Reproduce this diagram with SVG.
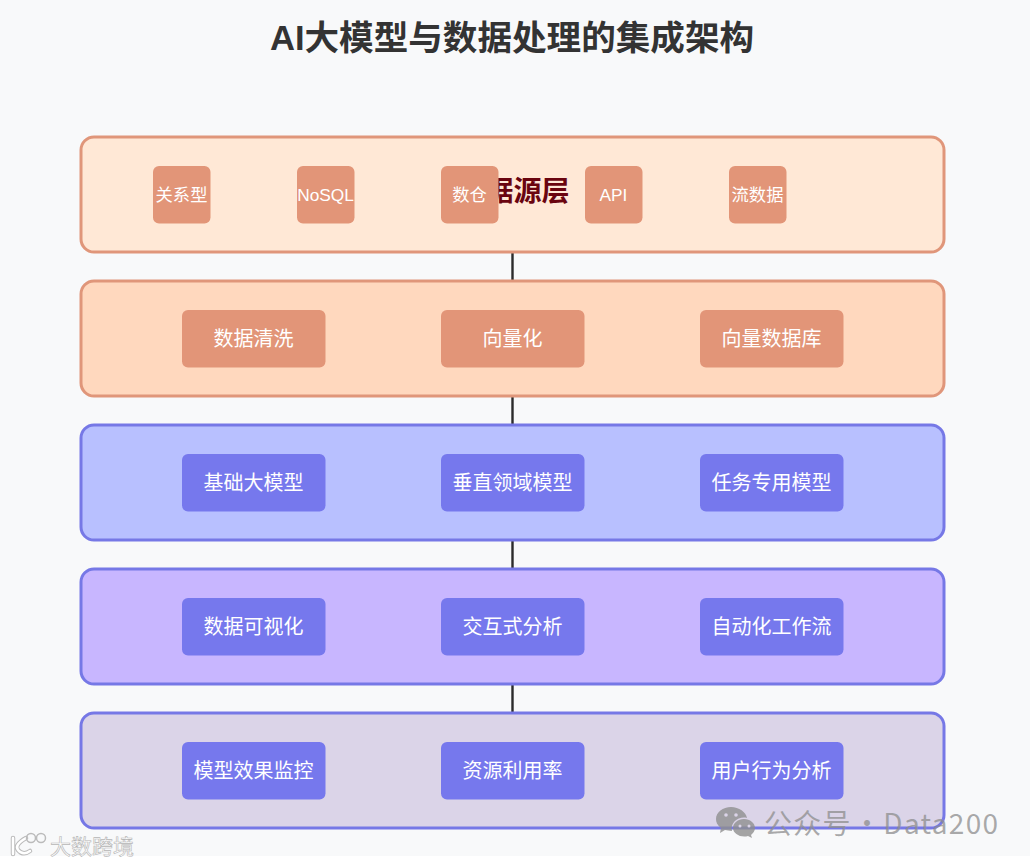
<svg xmlns="http://www.w3.org/2000/svg" width="1030" height="865" viewBox="0 0 1030 865">
<style>
text{font-family:"Liberation Sans","Noto Sans CJK SC",sans-serif;text-anchor:middle}
.o .l{stroke:#e0967a;stroke-width:3}
.b .l{stroke:#7678e6;stroke-width:3}
.o .n{fill:#e29578}
.b .n{fill:#7678ed}
.t{fill:#fff;font-size:20px}
.s{fill:#fff;font-size:17.300px}
.wm{fill:#8e8e8e;fill-opacity:.75;font-family:"Noto Sans CJK SC",sans-serif;font-size:28px;text-anchor:start;letter-spacing:1.300px;word-spacing:-6.500px}
</style>
<rect width="1030" height="856" fill="#f8f9fa"/>
<rect y="856" width="1030" height="9" fill="#fff"/>
<text id="title" x="512" y="50" font-size="34.600" font-weight="700" fill="#333">AI大模型与数据处理的集成架构</text>
<g id="connectors" stroke="#2b2b2b" stroke-width="2.400">
<path d="M512.5 251V282M512.5 395V426M512.5 539V570M512.5 683V714"/>
</g>
<g id="layer-source" class="o">
<rect class="l" x="81" y="137" width="863" height="115" rx="13" fill="#ffe8d6"/>
<text x="513.500" y="201" font-size="28" font-weight="700" fill="#6a040f">数据源层</text>
<g id="n-rel"><rect class="n" x="153" y="166" width="57.500" height="57.500" rx="6"/><text class="s" x="181.500" y="200.500">关系型</text></g>
<g id="n-nosql"><rect class="n" x="297" y="166" width="57.500" height="57.500" rx="6"/><text class="s" x="325.500" y="200.500">NoSQL</text></g>
<g id="n-dw"><rect class="n" x="441" y="166" width="57.500" height="57.500" rx="6"/><text class="s" x="469.500" y="200.500">数仓</text></g>
<g id="n-api"><rect class="n" x="585" y="166" width="57.500" height="57.500" rx="6"/><text class="s" x="613.500" y="200.500">API</text></g>
<g id="n-stream"><rect class="n" x="729" y="166" width="57.500" height="57.500" rx="6"/><text class="s" x="757.500" y="200.500">流数据</text></g>
</g>
<g id="layer-process" class="o">
<rect class="l" x="81" y="281" width="863" height="115" rx="13" fill="#ffd8be"/>
<g id="n-clean"><rect class="n" x="182" y="310" width="143.500" height="57.500" rx="6"/><text class="t" x="253.500" y="345.500">数据清洗</text></g>
<g id="n-vec"><rect class="n" x="441" y="310" width="143.500" height="57.500" rx="6"/><text class="t" x="512.500" y="345.500">向量化</text></g>
<g id="n-vdb"><rect class="n" x="700" y="310" width="143.500" height="57.500" rx="6"/><text class="t" x="771.500" y="345.500">向量数据库</text></g>
</g>
<g id="layer-model" class="b">
<rect class="l" x="81" y="425" width="863" height="115" rx="13" fill="#b8c0ff"/>
<g id="n-base"><rect class="n" x="182" y="454" width="143.500" height="57.500" rx="6"/><text class="t" x="253.500" y="489.500">基础大模型</text></g>
<g id="n-vert"><rect class="n" x="441" y="454" width="143.500" height="57.500" rx="6"/><text class="t" x="512.500" y="489.500">垂直领域模型</text></g>
<g id="n-task"><rect class="n" x="700" y="454" width="143.500" height="57.500" rx="6"/><text class="t" x="771.500" y="489.500">任务专用模型</text></g>
</g>
<g id="layer-app" class="b">
<rect class="l" x="81" y="569" width="863" height="115" rx="13" fill="#c8b6ff"/>
<g id="n-viz"><rect class="n" x="182" y="598" width="143.500" height="57.500" rx="6"/><text class="t" x="253.500" y="633.500">数据可视化</text></g>
<g id="n-inter"><rect class="n" x="441" y="598" width="143.500" height="57.500" rx="6"/><text class="t" x="512.500" y="633.500">交互式分析</text></g>
<g id="n-auto"><rect class="n" x="700" y="598" width="143.500" height="57.500" rx="6"/><text class="t" x="771.500" y="633.500">自动化工作流</text></g>
</g>
<g id="layer-monitor" class="b">
<rect class="l" x="81" y="713" width="863" height="115" rx="13" fill="#dbd4e8"/>
<g id="n-eff"><rect class="n" x="182" y="742" width="143.500" height="57.500" rx="6"/><text class="t" x="253.500" y="777.500">模型效果监控</text></g>
<g id="n-res"><rect class="n" x="441" y="742" width="143.500" height="57.500" rx="6"/><text class="t" x="512.500" y="777.500">资源利用率</text></g>
<g id="n-user"><rect class="n" x="700" y="742" width="143.500" height="57.500" rx="6"/><text class="t" x="771.500" y="777.500">用户行为分析</text></g>
</g>
<g id="watermark-wechat">
<path d="M731 807C739 807 746 812 747 818C739 816 730 822 732 831C729 831 727 830 725 830L720 833L721 828C717 825 716 822 716 819C716 812 723 807 731 807Z" fill="#8e8e8e" fill-opacity=".8"/>
<path d="M744 819C750 819 755 823 755 828C755 831 753 833 751 835L752 838L748 836C741 838 733 834 733 828C733 823 738 819 744 819Z" fill="#8e8e8e" fill-opacity=".8"/>
<circle cx="726" cy="815" r="1.800" fill="#dbd4e8"/><circle cx="736" cy="815" r="1.800" fill="#dbd4e8"/>
<circle cx="740" cy="826" r="1.500" fill="#dbd4e8"/><circle cx="749" cy="826" r="1.500" fill="#dbd4e8"/>
<text class="wm" x="764" y="834">公众号 · Data200</text>
</g>
<g id="watermark-logo">
<path d="M13 838V854M26 838Q14 845 18 850Q23 856 30 851" fill="none" stroke="#bbb" stroke-width="4.500" stroke-linecap="round"/>
<path d="M13 838V854M26 838Q14 845 18 850Q23 856 30 851" fill="none" stroke="#fff" stroke-width="2.500" stroke-linecap="round"/>
<circle cx="31" cy="838" r="4.500" fill="none" stroke="#bbb" stroke-width="1.500"/>
<circle cx="41" cy="838" r="4.500" fill="none" stroke="#bbb" stroke-width="1.500"/>
<text x="92" y="854" font-size="21" fill="#fff" stroke="#b5b5b5" stroke-width=".6">大数跨境</text>
</g>
</svg>
